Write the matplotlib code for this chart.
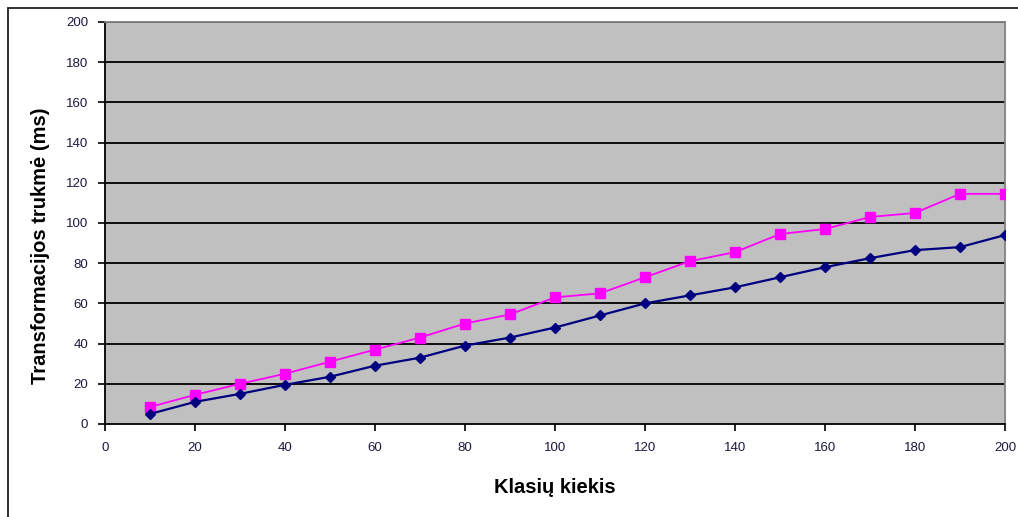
import numpy as np
import matplotlib.pyplot as plt
from matplotlib.patches import Rectangle

# Number of classes vs. transformation time (ms)
klasiu_kiekis = [10, 20, 30, 40, 50, 60, 70, 80, 90, 100,
                 110, 120, 130, 140, 150, 160, 170, 180, 190, 200]
trukme_a = [5, 11, 15, 19.5, 23.5, 29, 33, 39, 43, 48,
            54, 60, 64, 68, 73, 78, 82.5, 86.5, 88, 94]
trukme_b = [8.5, 14.5, 20, 25, 31, 37, 43, 50, 54.5, 63,
            65, 73, 81, 85.5, 94.5, 97, 103, 105, 114.5, 114.5]

x_ticks = np.arange(0, 201, 20)
y_ticks = np.arange(0, 201, 20)

plt.rcParams['font.family'] = ['Liberation Sans', 'DejaVu Sans']

fig = plt.figure(figsize=(10.18, 5.17), dpi=100)
ax = fig.add_axes([105 / 1018, 1 - 424 / 517, 900 / 1018, 402 / 517])

# outer chart frame (only top and left edges fall inside the canvas)
fig.patches.append(Rectangle((8 / 1018, -0.2), 1.2, 1.2 - 8 / 517,
                             transform=fig.transFigure, fill=False,
                             edgecolor='#202020', linewidth=1.3))

ax.set_facecolor('#C0C0C0')
for y in y_ticks[1:]:
    ax.axhline(y, color='black', linewidth=1.3, zorder=1)

ax.plot(klasiu_kiekis, trukme_b, color='#FF00FF', marker='s', markersize=6.5,
        linewidth=1.3, zorder=3)
ax.plot(klasiu_kiekis, trukme_a, color='#000080', marker='D', markersize=5.5,
        linewidth=1.6, zorder=4)

ax.set_xlim(0, 200)
ax.set_ylim(0, 200)
ax.set_xticks(x_ticks)
ax.set_yticks(y_ticks)

ax.spines['left'].set_color('black')
ax.spines['bottom'].set_color('black')
ax.spines['left'].set_linewidth(1.3)
ax.spines['bottom'].set_linewidth(1.3)
ax.spines['top'].set_color('#808080')
ax.spines['right'].set_color('#808080')
ax.spines['top'].set_linewidth(1.3)
ax.spines['right'].set_linewidth(1.3)

ax.tick_params(axis='both', direction='out', length=5, width=1.2,
               color='black', labelsize=9.5, labelcolor='#1a1a40')
ax.tick_params(axis='y', pad=7)
ax.tick_params(axis='x', pad=8)

ax.set_xlabel('Klasių kiekis', fontsize=14.5, fontweight='bold', labelpad=17)
ax.set_ylabel('Transformacijos trukmė (ms)', fontsize=14.5, fontweight='bold')
ax.yaxis.set_label_coords(-0.072, 0.443)
ax.yaxis.label.set_verticalalignment('center')

fig.savefig('out.png', dpi=100)
